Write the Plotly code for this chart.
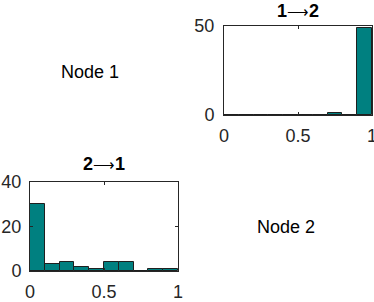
import plotly.graph_objects as go

bin_centers = [0.05, 0.15, 0.25, 0.35, 0.45, 0.55, 0.65, 0.75, 0.85, 0.95]
counts_1_to_2 = [0, 0, 0, 0, 0, 0, 0, 1, 0, 49]
counts_2_to_1 = [30, 3, 4, 2, 1, 4, 4, 0, 1, 1]
ARROW = "<span style='font-weight:normal;font-size:15px'>⟶</span>"
title_1_to_2 = "<b>1</b>" + ARROW + "<b>2</b>"
title_2_to_1 = "<b>2</b>" + ARROW + "<b>1</b>"
node_labels = ["Node 1", "Node 2"]

W, H = 374, 302
FONT = "Liberation Sans, Arial, Helvetica, sans-serif"
TEAL = "#008080"
EDGE = "#1f1f1f"
AX = "#262626"

fig = go.Figure()
fig.add_trace(go.Bar(x=bin_centers, y=counts_1_to_2, width=0.1, xaxis="x", yaxis="y",
                     marker=dict(color=TEAL, line=dict(color=EDGE, width=1)), showlegend=False))
fig.add_trace(go.Bar(x=bin_centers, y=counts_2_to_1, width=0.1, xaxis="x2", yaxis="y2",
                     marker=dict(color=TEAL, line=dict(color=EDGE, width=1)), showlegend=False))

def px_x(p):
    return p / W

def px_y(p):
    return 1 - p / H

axcommon = dict(showline=True, linecolor=AX, linewidth=1, mirror="ticks", ticks="inside",
                ticklen=3, tickcolor=AX, showgrid=False, zeroline=False, automargin=False,
                ticklabeloverflow="allow",
                tickfont=dict(family=FONT, size=18, color=AX))

fig.update_layout(
    width=W, height=H, margin=dict(l=0, r=0, t=0, b=0, autoexpand=False),
    plot_bgcolor="white", paper_bgcolor="white", bargap=0,
    xaxis=dict(domain=[px_x(224), px_x(372)], range=[0, 1], tickvals=[0, 0.5, 1],
               ticktext=["0", "0.5", "1"], anchor="y", ticklabelstandoff=4, **axcommon),
    yaxis=dict(domain=[px_y(115), px_y(26)], range=[0, 50], tickvals=[0, 50],
               anchor="x", ticklabelstandoff=5, **axcommon),
    xaxis2=dict(domain=[px_x(30), px_x(178)], range=[0, 1], tickvals=[0, 0.5, 1],
                ticktext=["0", "0.5", "1"], anchor="y2", ticklabelstandoff=4, **axcommon),
    yaxis2=dict(domain=[px_y(271), px_y(182)], range=[0, 40], tickvals=[0, 20, 40],
                anchor="x2", ticklabelstandoff=4, **axcommon),
    annotations=[
        dict(text=title_1_to_2, x=px_x(298), y=px_y(11), xref="paper", yref="paper",
             showarrow=False, xanchor="center", yanchor="middle",
             font=dict(family=FONT, size=18, color="black")),
        dict(text=title_2_to_1, x=px_x(104), y=px_y(164), xref="paper", yref="paper",
             showarrow=False, xanchor="center", yanchor="middle",
             font=dict(family=FONT, size=18, color="black")),
        dict(text=node_labels[0], x=px_x(90), y=px_y(72), xref="paper", yref="paper",
             showarrow=False, xanchor="center", yanchor="middle",
             font=dict(family=FONT, size=18, color="black")),
        dict(text=node_labels[1], x=px_x(286), y=px_y(227), xref="paper", yref="paper",
             showarrow=False, xanchor="center", yanchor="middle",
             font=dict(family=FONT, size=18, color="black")),
    ],
)

fig.write_html("out.html", config={"displayModeBar": False},
               post_script="document.body.style.margin='0';document.body.style.padding='0';")
